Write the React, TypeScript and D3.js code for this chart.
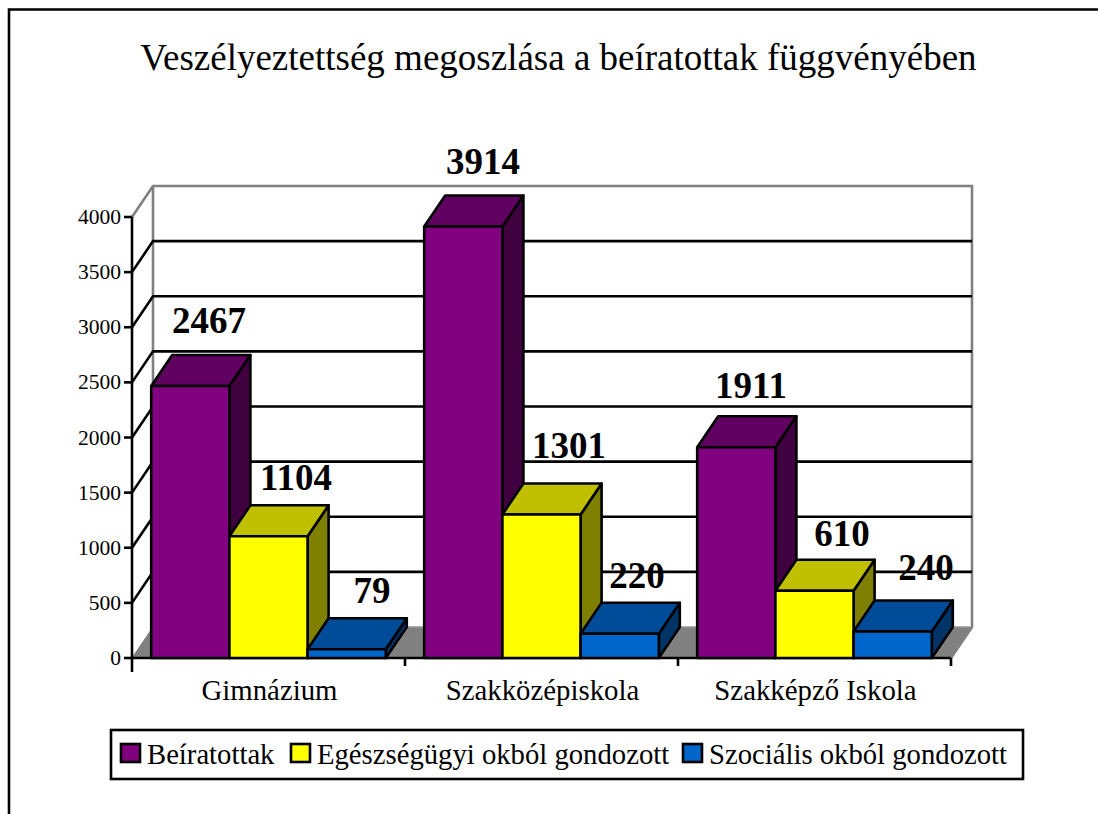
import React from "react";
import * as d3 from "d3";

const categories = ["Gimnázium", "Szakközépiskola", "Szakképző Iskola"];
const seriesNames = ["Beíratottak", "Egészségügyi okból gondozott", "Szociális okból gondozott"];
const beiratottak = [2467, 3914, 1911];
const egeszsegugyi = [1104, 1301, 610];
const szocialis = [79, 220, 240];
const yTicks = [0, 500, 1000, 1500, 2000, 2500, 3000, 3500, 4000];
const title = "Veszélyeztettség megoszlása a beíratottak függvényében";

const seriesValues = [beiratottak, egeszsegugyi, szocialis];
const colors = [
  { front: "#800080", top: "#600060", side: "#400040" },
  { front: "#FFFF00", top: "#C0C000", side: "#808000" },
  { front: "#0066CC", top: "#004C99", side: "#003366" },
];
const labelPos = [
  [[209, 333], [296, 490], [372, 603]],
  [[483, 174], [569, 458], [637, 588]],
  [[751, 398], [842, 546], [926, 580]],
];

const FONT = "'Liberation Serif', serif";
const DX = 21;
const DY = -31;
const SW = 2.6;

export default function App() {
  const y = d3.scaleLinear().domain([0, 4000]).range([658, 217]);
  const x = d3.scaleBand<string>().domain(categories).range([132, 951]);
  const x0 = 132, x1 = 951, y0 = y(0), yT = y(4000);
  const barW = 78.2;
  const inset = (x.bandwidth() - barW * 3) / 2;
  const poly = (p: number[][]) => p.map((a) => a.join(",")).join(" ");

  return (
    <svg width={1098} height={814} style={{ position: "absolute", left: 0, top: 0, background: "#fff" }} fontFamily={FONT}>
      <polyline points={poly([[9, 814], [9, 9.5], [1098, 9.5]])} fill="none" stroke="#000" strokeWidth={2.6} />
      <text x={558.5} y={70} fontSize={37} textAnchor="middle" fill="#000">{title}</text>

      {/* floor */}
      <polygon points={poly([[x0, y0], [x0 + DX, y0 + DY], [x1 + DX, y0 + DY], [x1, y0]])} fill="#808080" stroke="#808080" strokeWidth={1} />
      {/* back wall */}
      <polyline points={poly([[x0, yT], [x0 + DX, yT + DY], [x1 + DX, yT + DY], [x1 + DX, y0 + DY], [x1, y0]])} fill="none" stroke="#808080" strokeWidth={SW} />
      <line x1={x0 + DX} x2={x0 + DX} y1={yT + DY} y2={y0 + DY} stroke="#808080" strokeWidth={SW} />
      <line x1={x0 + DX} x2={x1 + DX} y1={y0 + DY} y2={y0 + DY} stroke="#a0a0a0" strokeWidth={1} />

      {/* grid */}
      {yTicks.filter((t) => t > 0 && t < 4000).map((t) => (
        <polyline key={t} stroke="#000" strokeWidth={SW} fill="none" points={poly([[x0, y(t)], [x0 + DX, y(t) + DY], [x1 + DX, y(t) + DY]])} />
      ))}

      {/* axes */}
      <line x1={x0} x2={x0} y1={yT} y2={y0 + 14} stroke="#000" strokeWidth={SW} />
      <line x1={x0} x2={x1} y1={y0} y2={y0} stroke="#000" strokeWidth={SW} />
      {yTicks.map((t) => (
        <g key={t}>
          <line x1={x0 - 8} x2={x0} y1={y(t)} y2={y(t)} stroke="#000" strokeWidth={SW} />
          <text x={121} y={y(t) + 7} fontSize={21.5} textAnchor="end" fill="#000">{t}</text>
        </g>
      ))}
      {d3.range(1, 4).map((i) => (
        <line key={i} x1={x0 + i * x.bandwidth()} x2={x0 + i * x.bandwidth()} y1={y0} y2={y0 + 8} stroke="#000" strokeWidth={SW} />
      ))}
      {categories.map((c) => (
        <text key={c} x={x(c)! + x.bandwidth() / 2 + 1} y={700} fontSize={28.8} textAnchor="middle" fill="#000">{c}</text>
      ))}

      {/* bars */}
      {categories.map((c, ci) =>
        seriesValues.map((vals, si) => {
          const v = vals[ci];
          const l = x(c)! + inset + si * barW;
          const r = l + barW;
          const t = y(v);
          const col = colors[si];
          return (
            <g key={c + si} stroke="#000" strokeWidth={SW} strokeLinejoin="round">
              <polygon points={poly([[r, y0], [r + DX, y0 + DY], [r + DX, t + DY], [r, t]])} fill={col.side} />
              <polygon points={poly([[l, t], [l + DX, t + DY], [r + DX, t + DY], [r, t]])} fill={col.top} />
              <rect x={l} y={t} width={barW} height={y0 - t} fill={col.front} />
            </g>
          );
        })
      )}

      {/* data labels */}
      {categories.map((c, ci) =>
        seriesValues.map((vals, si) => (
          <text key={c + si} x={labelPos[ci][si][0]} y={labelPos[ci][si][1]} fontSize={37} fontWeight="bold" textAnchor="middle" fill="#000">{vals[ci]}</text>
        ))
      )}

      {/* legend */}
      <rect x={111} y={730} width={912} height={49} fill="#fff" stroke="#000" strokeWidth={SW} />
      {[[121, 147], [291, 317], [683, 709]].map(([sx, tx], i) => (
        <g key={i}>
          <rect x={sx} y={744} width={19} height={18} fill={colors[i].front} stroke="#000" strokeWidth={SW} />
          <text x={tx} y={764} fontSize={28.7} fill="#000">{seriesNames[i]}</text>
        </g>
      ))}
    </svg>
  );
}
